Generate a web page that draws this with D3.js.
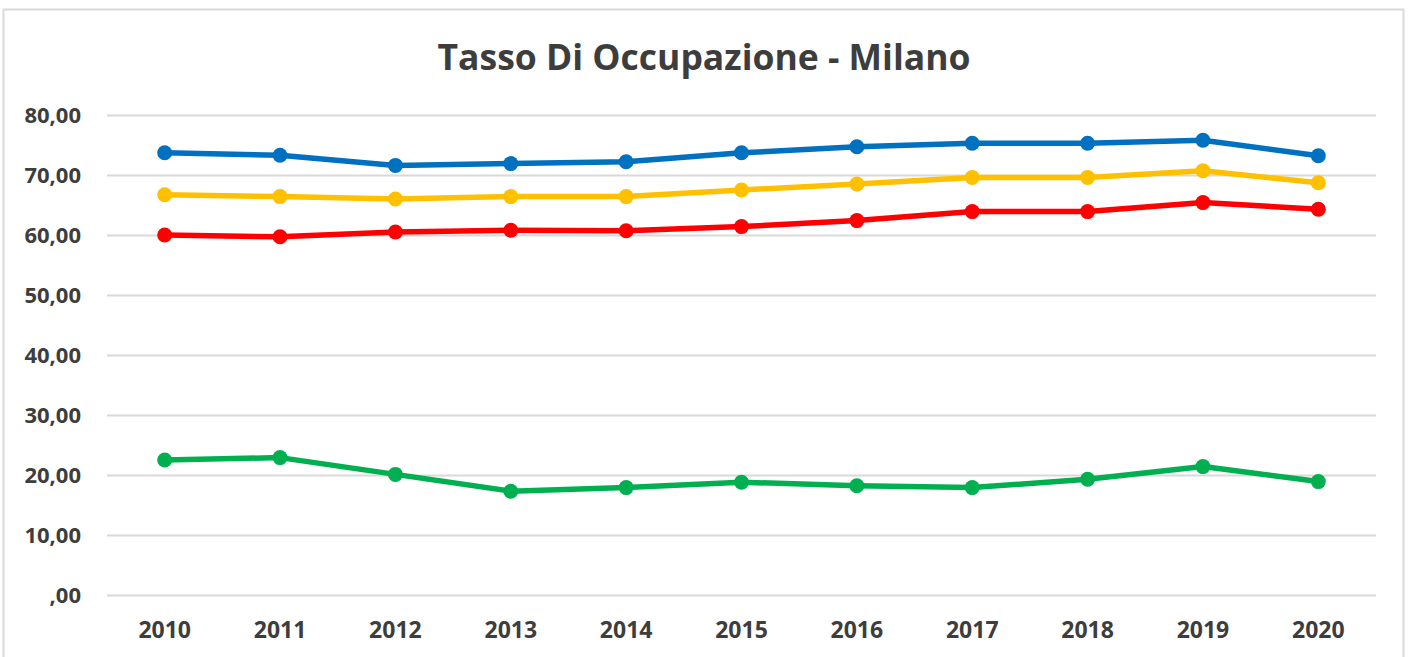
<!DOCTYPE html>
<html>
<head>
<meta charset="utf-8">
<script src="https://cdn.jsdelivr.net/npm/d3@7"></script>
<style>
  body { margin: 0; background: #fff; }
  text { font-family: "Open Sans", sans-serif; font-weight: bold; fill: #3d3d3d; }
</style>
</head>
<body>
<svg class="chart" width="1409" height="657"></svg>
<script>
// data
const years = ['2010', '2011', '2012', '2013', '2014', '2015', '2016', '2017', '2018', '2019', '2020']
const maschi = [73.7, 73.3, 71.6, 71.9, 72.2, 73.7, 74.7, 75.3, 75.3, 75.8, 73.2]
const totale = [66.7, 66.4, 66.0, 66.4, 66.4, 67.5, 68.5, 69.6, 69.6, 70.7, 68.7]
const femmine = [60.0, 59.7, 60.5, 60.8, 60.7, 61.4, 62.4, 63.9, 63.9, 65.4, 64.3]
const giovani = [22.5, 22.9, 20.1, 17.3, 17.9, 18.8, 18.2, 17.9, 19.3, 21.4, 18.9]
const seriesNames = ['Maschi', 'Totale', 'Femmine', '15-24 anni']
const seriesColors = ['#0070C0', '#FFC000', '#FF0000', '#00B050']
const yTicks = [0, 10, 20, 30, 40, 50, 60, 70, 80]
const yTickLabels = [',00', '10,00', '20,00', '30,00', '40,00', '50,00', '60,00', '70,00', '80,00']
const title = 'Tasso Di Occupazione - Milano'

const series = [maschi, totale, femmine, giovani]

// layout
const plot = { left: 107, right: 1376, top: 115, bottom: 595 }

const svg = d3.select('.chart')

// outer border of the chart area
svg.append('rect')
  .attr('x', 3.5).attr('y', 9.5)
  .attr('width', 1400).attr('height', 700)
  .style('fill', 'none')
  .style('stroke', '#d9d9d9')
  .style('stroke-width', 2)

const x = d3.scaleBand().domain(years).range([plot.left, plot.right])
const y = d3.scaleLinear().domain([0, 80]).range([plot.bottom, plot.top])

// gridlines + y labels
const yAxis = svg.append('g')
  .attr('transform', 'translate(' + plot.left + ',0)')
  .call(d3.axisLeft(y)
    .tickValues(yTicks)
    .tickFormat((d, i) => yTickLabels[i])
    .tickSize(-(plot.right - plot.left))
    .tickPadding(26))
yAxis.select('.domain').remove()
yAxis.selectAll('line').style('stroke', '#d9d9d9').style('stroke-width', 2)
yAxis.selectAll('text').style('font-size', '22px').attr('fill', null)

// x labels
const xAxis = svg.append('g')
  .attr('transform', 'translate(0,' + plot.bottom + ')')
  .call(d3.axisBottom(x).tickSize(0))
xAxis.select('.domain').remove()
xAxis.selectAll('text')
  .attr('dy', null)
  .attr('y', 43)
  .attr('fill', null)
  .style('font-size', '23px')

// lines and markers
const line = d3.line()
  .x((d, i) => x(years[i]) + x.bandwidth() / 2)
  .y(d => y(d))

series.forEach((values, s) => {
  const g = svg.append('g').attr('class', 'series')
  g.append('path')
    .datum(values)
    .attr('d', line)
    .style('fill', 'none')
    .style('stroke', seriesColors[s])
    .style('stroke-width', 5.5)
    .style('stroke-linejoin', 'round')
  g.selectAll('circle')
    .data(values)
    .enter()
    .append('circle')
    .attr('cx', (d, i) => x(years[i]) + x.bandwidth() / 2)
    .attr('cy', d => y(d))
    .attr('r', 7.5)
    .style('fill', seriesColors[s])
})

// title, fitted to the width it has in the picture
const t = svg.append('text')
  .attr('x', 704)
  .attr('y', 70)
  .attr('text-anchor', 'middle')
  .style('font-size', '36px')
  .text(title)
const len = t.node().getComputedTextLength()
t.style('font-size', (36 * 533 / len).toFixed(1) + 'px')
</script>
</body>
</html>
